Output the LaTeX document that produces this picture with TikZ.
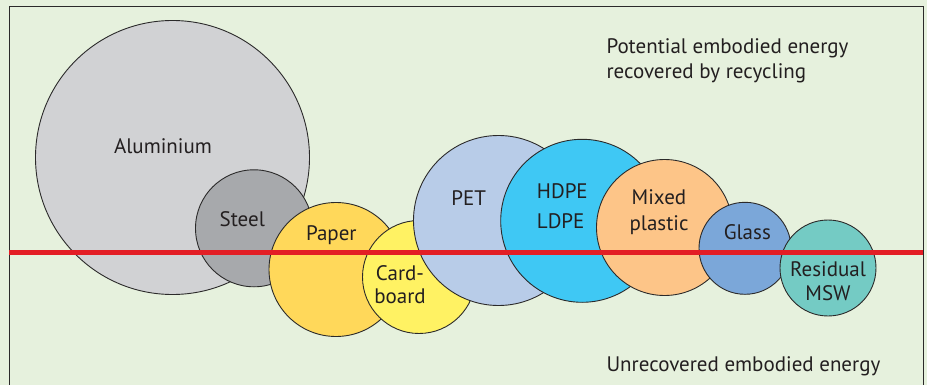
\documentclass[tikz,border=0pt]{standalone}
\usepackage{fontspec}
\setmainfont{PT Sans}
\definecolor{bg}{HTML}{E6F1DD}
\definecolor{outl}{HTML}{2B2A2A}
\definecolor{txt}{HTML}{231F20}
\definecolor{alu}{HTML}{D1D2D4}
\definecolor{steel}{HTML}{A7A9AC}
\definecolor{paper}{HTML}{FFD85A}
\definecolor{card}{HTML}{FFF263}
\definecolor{pet}{HTML}{B8CCE8}
\definecolor{hdpe}{HTML}{3FC8F4}
\definecolor{mixed}{HTML}{FDC588}
\definecolor{glass}{HTML}{7BA7D9}
\definecolor{resid}{HTML}{74CBC4}
\definecolor{redline}{HTML}{E31E25}
\begin{document}
\begin{tikzpicture}[x=1pt,y=-1pt,
  disc/.style={circle,draw=outl,line width=0.9pt,inner sep=0pt,minimum size=#1},
  lbl/.style={text=txt,font=\fontsize{21}{25}\selectfont,inner sep=0pt,anchor=base}]
\fill[bg] (0,0) rectangle (927,385);
\useasboundingbox (0,0) rectangle (927,385);
\draw[outl,line width=0.9pt] (9,385) -- (9,6) -- (923,6) -- (923,385);
% circles, back to front
\node[disc=274pt,fill=alu]   (al)  at (172.5,157.5) {};
\node[disc=117pt,fill=steel] (st)  at (254,228.3) {};
\node[disc=134pt,fill=paper] (pa)  at (336,269.5) {};
\node[disc=113pt,fill=card]  (cb)  at (419,277) {};
\node[disc=170pt,fill=pet]   (pet) at (498.5,220.5) {};
\node[disc=163pt,fill=hdpe]  (hd)  at (582.2,220.8) {};
\node[disc=136pt,fill=mixed] (mx)  at (664.5,227.5) {};
\node[disc=92pt,fill=glass]  (gl)  at (745,248.3) {};
\node[disc=96pt,fill=resid]  (rm)  at (828,268) {};
% divider
\coordinate (la) at (9,252);
\coordinate (lb) at (923,252);
\draw[redline,line width=5pt] (la) -- (lb);
% labels
\node[lbl] (tal) at (163,154) {Aluminium};
\node[lbl] (tst) at (242.3,226.7) {Steel};
\node[lbl] (tpa) at (331.3,240.7) {Paper};
\node[lbl] (tcb1) at (400,280) {Card-};
\node[lbl] (tcb2) at (400,303.3) {board};
\node[lbl] (tpet) at (468.7,206) {PET};
\node[lbl,anchor=base west] (thd1) at (536.7,198.7) {HDPE};
\node[lbl,anchor=base west] (thd2) at (536.7,228.7) {LDPE};
\node[lbl] (tmx1) at (659,204.7) {Mixed};
\node[lbl] (tmx2) at (659,230) {plastic};
\node[lbl] (tgl) at (747.3,239.3) {Glass};
\node[lbl] (trm1) at (828,276.7) {Residual};
\node[lbl] (trm2) at (828,300.7) {MSW};
\node[lbl,anchor=base west] (tp1) at (606.3,53.3) {Potential embodied energy};
\node[lbl,anchor=base west] (tp2) at (606.3,78.3) {recovered by recycling};
\node[lbl,anchor=base west] (tu) at (606.3,371) {Unrecovered embodied energy};
\end{tikzpicture}
\end{document}
